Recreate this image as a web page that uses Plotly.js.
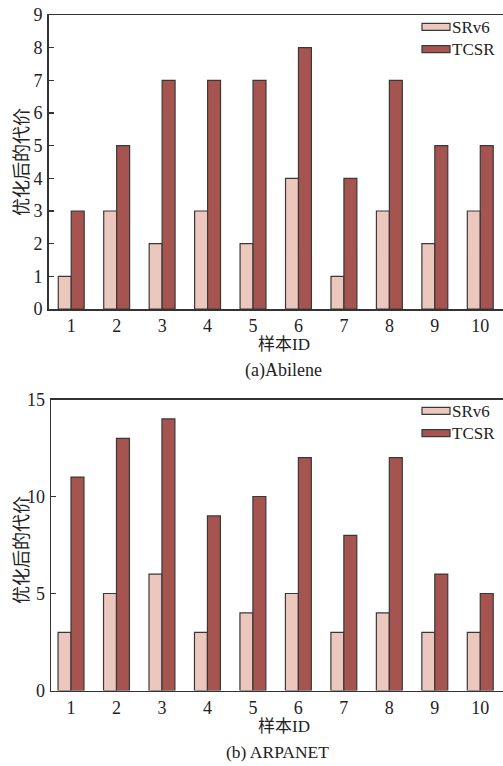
<!DOCTYPE html>
<html>
<head>
<meta charset="utf-8">
<script src="https://cdn.plot.ly/plotly-3.0.1.min.js"></script>
<style>html,body{margin:0;padding:0;background:#fff;}#chart{width:503px;height:766px;}</style>
</head>
<body>
<div id="chart"></div>
<script>
const categories = [1, 2, 3, 4, 5, 6, 7, 8, 9, 10];
const tickLabels = ['1','2','3','4','5','6','7','8','9','10'];
const abileneSRv6 = [1, 3, 2, 3, 2, 4, 1, 3, 2, 3];
const abileneTCSR = [3, 5, 7, 7, 7, 8, 4, 7, 5, 5];
const arpanetSRv6 = [3, 5, 6, 3, 4, 5, 3, 4, 3, 3];
const arpanetTCSR = [11, 13, 14, 9, 10, 12, 8, 12, 6, 5];
const seriesNames = ['SRv6', 'TCSR'];
const yTitle = '优化后的代价';
const xTitle = '样本ID';
const captions = ['(a)Abilene', '(b) ARPANET'];

const W = 503, H = 766;
const colSR = '#ecc7bd', colTC = '#a6544f', edge = '#383838';
const serif = 'Liberation Serif, Times New Roman, Noto Sans CJK SC, serif';
const px = v => v / W;
const py = v => 1 - v / H;

function bar(name, y, color, xa, ya) {
  return {type: 'bar', name: name, x: categories, y: y, xaxis: xa, yaxis: ya,
    marker: {color: color, line: {color: edge, width: 1.2}}, showlegend: false, hoverinfo: 'x+y'};
}
const data = [
  bar(seriesNames[0], abileneSRv6, colSR, 'x', 'y'),
  bar(seriesNames[1], abileneTCSR, colTC, 'x', 'y'),
  bar(seriesNames[0], arpanetSRv6, colSR, 'x2', 'y2'),
  bar(seriesNames[1], arpanetTCSR, colTC, 'x2', 'y2')
];

const tickFont = {family: serif, size: 18, color: '#222'};
function xax(domain, range, anchor) {
  return {domain: domain, range: range, anchor: anchor, tickmode: 'array', tickvals: categories, ticktext: tickLabels,
    showline: true, mirror: true, linecolor: '#333', linewidth: 1.5, ticks: '', showgrid: false, zeroline: false,
    tickfont: tickFont, fixedrange: true};
}
function yax(domain, range, dtick, anchor) {
  return {domain: domain, range: range, dtick: dtick, anchor: anchor, showline: true, linecolor: '#333', linewidth: 1.5,
    ticks: 'inside', ticklen: 5, tickcolor: '#333', tickwidth: 1.2, showgrid: false, zeroline: false,
    tickfont: tickFont, ticklabelstandoff: 1, fixedrange: true};
}

const shapes = [];
const annotations = [];
const legFont = 17;
function legend(centerY) {
  const fills = [colSR, colTC];
  const step = legFont * 1.3;
  for (let i = 0; i < 2; i++) {
    const cy = centerY + (i - 0.5) * step;
    shapes.push({type: 'rect', xref: 'paper', yref: 'paper', x0: px(422), x1: px(450), y0: py(cy - 3.5), y1: py(cy + 3.5),
      fillcolor: fills[i], line: {color: edge, width: 1.2}});
  }
  annotations.push({xref: 'paper', yref: 'paper', x: px(451), y: py(centerY), xanchor: 'left', yanchor: 'middle',
    align: 'left', text: seriesNames.join('<br>'), showarrow: false, borderpad: 0,
    font: {family: serif, size: legFont, color: '#222'}});
}
legend(38);
legend(422);

function label(text, x, y, size, angle) {
  annotations.push({xref: 'paper', yref: 'paper', x: px(x), y: py(y), xanchor: 'center', yanchor: 'middle',
    text: text, showarrow: false, textangle: angle || 0, font: {family: serif, size: size, color: '#222'}});
}
label(yTitle, 22, 162, 18, -90);
label(yTitle, 22, 550, 18, -90);
label(xTitle, 284, 344, 17);
label(xTitle, 284, 726, 17);
label(captions[0], 283, 371, 18);
label(captions[1], 277, 752, 17.5);

const layout = {
  width: W, height: H, margin: {l: 0, r: 0, t: 0, b: 0},
  paper_bgcolor: '#fff', plot_bgcolor: '#fff',
  barmode: 'group', bargap: 0.43, bargroupgap: 0,
  xaxis: xax([px(48.5), 1], [0.5, 10.5], 'y'),
  yaxis: yax([py(309), py(15)], [0, 9], 1, 'x'),
  xaxis2: xax([px(51), 1], [0.56, 10.5], 'y2'),
  yaxis2: yax([py(690.5), py(399.5)], [0, 15], 5, 'x2'),
  shapes: shapes, annotations: annotations, showlegend: false
};
Plotly.newPlot('chart', data, layout, {displayModeBar: false, staticPlot: true});
</script>
</body>
</html>
